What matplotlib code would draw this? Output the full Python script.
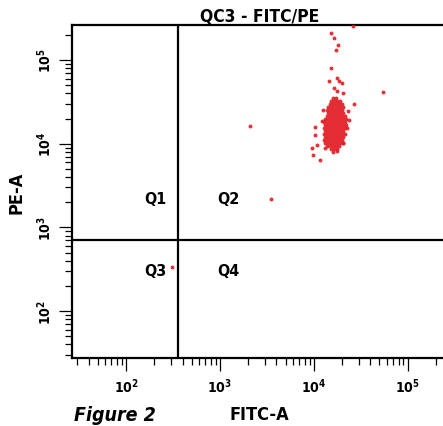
import numpy as np
import matplotlib.pyplot as plt
from matplotlib.ticker import LogLocator, FuncFormatter, NullFormatter

# condensed bold look of the cytometer export
plt.rcParams['font.family'] = ['DejaVu Sans']
plt.rcParams['font.stretch'] = 'condensed'
plt.rcParams['font.weight'] = 'bold'
plt.rcParams['mathtext.fontset'] = 'custom'
plt.rcParams['mathtext.rm'] = 'DejaVu Sans:bold:stretch=condensed'
plt.rcParams['mathtext.bf'] = 'DejaVu Sans:bold:stretch=condensed'
plt.rcParams['mathtext.it'] = 'DejaVu Sans:bold:stretch=condensed'

# dense part of the population: one PE level per row, FITC values along it
core_pe = [35400, 32600, 30000, 27600, 25400, 23400, 21500, 19800, 18200,
           16800, 15400, 14200, 13100, 12000, 11100, 10200, 9400, 8600]
core_fitc = [
    [15900, 17100],
    [15200, 16300, 17600, 18900],
    [14800, 15900, 17100, 18400, 19900],
    [14100, 15200, 16300, 17600, 18900, 20300],
    [13700, 14800, 15900, 17100, 18400, 19900],
    [14100, 15200, 16300, 17600, 18900, 20300],
    [13700, 14800, 15900, 17100, 18400, 19900, 21400],
    [13100, 14100, 15200, 16300, 17600, 18900, 20300, 21900],
    [12800, 13700, 14800, 15900, 17100, 18400, 19900, 21400],
    [13100, 14100, 15200, 16300, 17600, 18900, 20300, 21900],
    [12800, 13700, 14800, 15900, 17100, 18400, 19900, 21400],
    [13100, 14100, 15200, 16300, 17600, 18900, 20300],
    [12800, 13700, 14800, 15900, 17100, 18400, 19900, 21400],
    [13100, 14100, 15200, 16300, 17600, 18900, 20300],
    [12800, 13700, 14800, 15900, 17100, 18400, 19900],
    [13100, 14100, 15200, 16300, 17600, 18900, 20300],
    [13700, 14800, 15900, 17100, 18400],
    [15200, 16300, 17600],
]

# scattered events around the cluster + the few strays
out_fitc = [26000, 15170, 16320, 18000, 17140, 15170, 14440, 17560, 18450,
            19860, 16320, 17560, 20350, 26650, 23000, 12460, 12170, 23570,
            10250, 22440, 10250, 20350, 10760, 9522, 13090, 9758, 11580,
            15930, 17560, 54200, 2085, 3488, 309]
out_pe = [252000, 207500, 185800, 153000, 133300, 81060, 56580, 61480, 56580,
          53550, 46650, 42930, 40610, 29970, 24700, 25380, 18730, 19260,
          15860, 15430, 12720, 10190, 9647, 8880, 8880, 7317, 6372,
          7950, 8170, 41750, 16310, 2168, 340]

fitc_gate = 357
pe_gate = 700
quad_names = ['Q1', 'Q2', 'Q3', 'Q4']
quad_fitc = [203, 1217, 203, 1217]
quad_pe = [2230, 2230, 305, 305]

fitc_all = []
pe_all = []
for pe, row in zip(core_pe, core_fitc):
    fitc_all += row
    pe_all += [pe] * len(row)
fitc_all += out_fitc
pe_all += out_pe

fig = plt.figure(figsize=(4.43, 4.27), dpi=100)
ax = fig.add_axes([72/443, 68/427, 375/443, 333/427])

ax.scatter(fitc_all, pe_all, s=8, color='#e31b23', alpha=0.9, linewidths=0, zorder=3)

ax.set_xscale('log')
ax.set_yscale('log')
ax.set_xlim(26.6, 262144)
ax.set_ylim(27.5, 262144)

ax.axvline(fitc_gate, color='black', lw=1.6, zorder=2)
ax.axhline(pe_gate, color='black', lw=1.6, zorder=2)

for name, qx, qy in zip(quad_names, quad_fitc, quad_pe):
    ax.text(qx, qy, name, fontsize=11.5, fontweight='bold', ha='center', va='center')

fmt = FuncFormatter(lambda v, p: r'$10^{%d}$' % int(round(np.log10(v))))
for axis in [ax.xaxis, ax.yaxis]:
    axis.set_major_locator(LogLocator(base=10, numticks=10))
    axis.set_minor_locator(LogLocator(base=10, subs=np.arange(2, 10), numticks=10))
    axis.set_major_formatter(fmt)
    axis.set_minor_formatter(NullFormatter())

ax.tick_params(which='major', length=9.5, width=0.9, labelsize=10)
ax.tick_params(which='minor', length=5, width=0.9)
ax.tick_params(axis='x', pad=4)
ax.tick_params(axis='y', pad=3.5, labelrotation=90)
for lab in ax.get_yticklabels():
    lab.set_va('center')

for sp in ax.spines.values():
    sp.set_linewidth(1.6)

ax.set_title('QC3 - FITC/PE', fontsize=12.5, fontweight='bold', pad=3)
ax.set_xlabel('FITC-A', fontsize=13, fontweight='bold')
ax.set_ylabel('PE-A', fontsize=13, fontweight='bold')
ax.xaxis.set_label_coords(0.5, -0.141)
ax.yaxis.set_label_coords(-0.123, 0.5)

fig.text(74/443, 1 - 421/427, 'Figure 2', fontsize=14, fontweight='bold',
         style='italic', va='baseline')

fig.savefig('out.png', dpi=100)
